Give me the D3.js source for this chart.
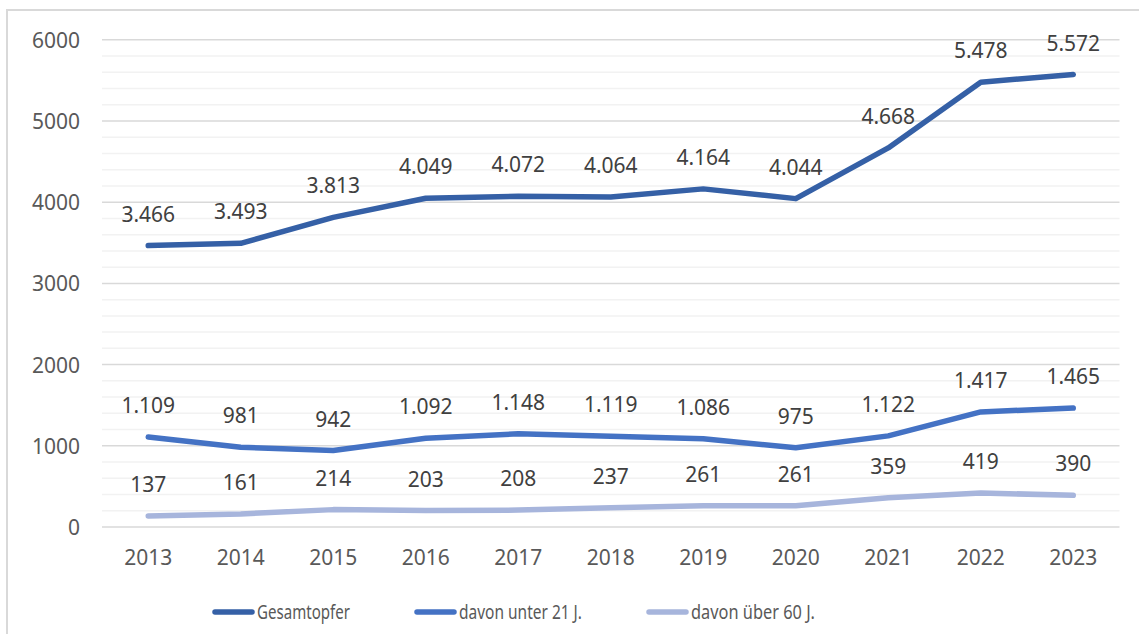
<!DOCTYPE html>
<html><head><meta charset="utf-8">
<script src="https://cdn.jsdelivr.net/npm/d3@7"></script>
<style>body{margin:0;background:#fff;}svg{display:block;}</style>
</head><body>
<svg id="c" width="1139" height="634"></svg>
<script>
const years = ["2013","2014","2015","2016","2017","2018","2019","2020","2021","2022","2023"];
const gesamt = [3466,3493,3813,4049,4072,4064,4164,4044,4668,5478,5572];
const unter21 = [1109,981,942,1092,1148,1119,1086,975,1122,1417,1465];
const ueber60 = [137,161,214,203,208,237,261,261,359,419,390];
const seriesNames = ["Gesamtopfer","davon unter 21 J.","davon über 60 J."];
const yTicks = [0,1000,2000,3000,4000,5000,6000];
const colors = ["#3560a6","#4472c4","#a7b5dc"];

const svg = d3.select("#c");
const font = "'Noto Sans', sans-serif";
svg.append("rect").attr("x",7).attr("y",10).attr("width",1145).attr("height",640)
  .attr("fill","#fff").attr("stroke","#d9d9d9").attr("stroke-width",2);

const x = d3.scaleBand().domain(years).range([102,1119.5]);
const y = d3.scaleLinear().domain([0,6000]).range([527,39.8]);

const minor = d3.range(0,6001,200).filter(v=>v%1000!==0);
svg.append("g").selectAll("line").data(minor).join("line")
  .attr("x1",102).attr("x2",1119.5).attr("y1",d=>y(d)).attr("y2",d=>y(d))
  .attr("stroke","#f2f2f2").attr("stroke-width",1.5);
svg.append("g").selectAll("line").data(yTicks).join("line")
  .attr("x1",102).attr("x2",1119.5).attr("y1",d=>y(d)).attr("y2",d=>y(d))
  .attr("stroke","#d9d9d9").attr("stroke-width",1.5);

const yAxis = d3.axisLeft(y).tickValues(yTicks).tickSize(0).tickPadding(0).tickFormat(d3.format("d"));
const gy = svg.append("g").attr("transform","translate(80,0)").call(yAxis);
gy.select(".domain").remove();
gy.selectAll("text").attr("font-family",font).attr("font-size",21).attr("fill","#595959").attr("dy","0.36em");

const xAxis = d3.axisBottom(x).tickSize(0).tickPadding(0);
const gx = svg.append("g").attr("transform","translate(0,550)").call(xAxis);
gx.select(".domain").remove();
gx.selectAll("text").attr("font-family",font).attr("font-size",21).attr("fill","#595959").attr("dy","0.71em");

const fmt = v => d3.format(",")(v).replace(/,/g,".");
const all = [gesamt, unter21, ueber60];
const line = d3.line().x((d,i)=>x(years[i])+x.bandwidth()/2).y(d=>y(d));
all.forEach((s,k)=>{
  svg.append("path").datum(s).attr("d",line).attr("fill","none")
    .attr("stroke",colors[k]).attr("stroke-width",5.5)
    .attr("stroke-linecap","round").attr("stroke-linejoin","round");
});
all.forEach((s,k)=>{
  svg.append("g").selectAll("text").data(s).join("text")
    .attr("x",(d,i)=>x(years[i])+x.bandwidth()/2).attr("y",d=>y(d)-24)
    .attr("text-anchor","middle").attr("font-family",font).attr("font-size",21)
    .attr("fill","#404040").text(fmt);
});

const legX = [212,414,646];
const legW = [93,123,124];
const lg = svg.append("g");
seriesNames.forEach((n,k)=>{
  lg.append("line").attr("x1",legX[k]+3).attr("x2",legX[k]+40).attr("y1",612).attr("y2",612)
    .attr("stroke",colors[k]).attr("stroke-width",5.5).attr("stroke-linecap","round");
  lg.append("text").attr("x",legX[k]+45).attr("y",612).attr("dy","0.36em")
    .attr("font-family",font).attr("font-size",20).attr("fill","#595959")
    .attr("textLength",legW[k]).attr("lengthAdjust","spacingAndGlyphs").text(n);
});
</script>
</body></html>
